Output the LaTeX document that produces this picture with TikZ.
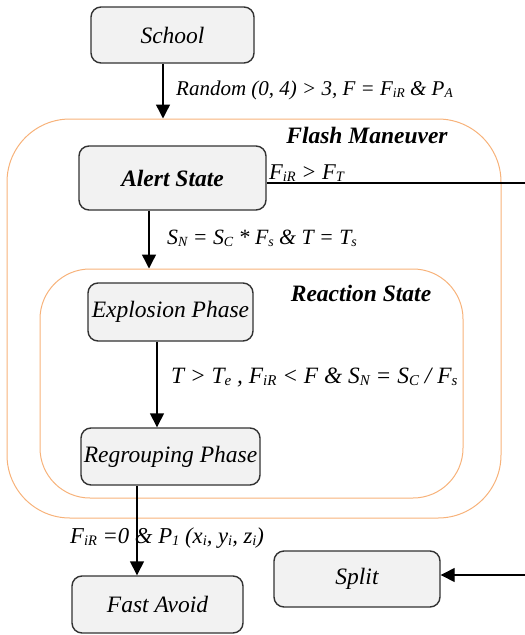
\documentclass[tikz,border=0pt]{standalone}
\usepackage{fontspec}
\setmainfont{Liberation Serif}
\usetikzlibrary{arrows.meta}
\definecolor{boxfill}{RGB}{242,242,242}
\definecolor{boxline}{RGB}{50,50,50}
\definecolor{zone}{RGB}{247,178,122}
% lowered index, sized relative to the condition text
\def\condsz{21}
\newcommand\lo[1]{\raisebox{-2pt}{\fontsize{\fpeval{0.64*\condsz}}{\fpeval{0.7*\condsz}}\selectfont #1}}
\tikzset{
  statebox/.style={draw=boxline, line width=1.4pt, fill=boxfill, rounded corners=10pt,
    inner sep=0pt, font=\fontsize{23.5}{28}\selectfont\itshape},
  zonebox/.style={draw=zone, line width=1pt, inner sep=0pt},
  zonetitle/.style={font=\fontsize{23.5}{28}\selectfont\bfseries\itshape},
  cond/.style={font=\def\condsz{#1}\fontsize{#1}{#1}\selectfont\itshape, inner sep=0pt, anchor=west},
  cond/.default=21,
  arr/.style={line width=1.4pt, -{Triangle[length=14pt,width=14pt]}},
}
\begin{document}
\begin{tikzpicture}[x=1pt,y=-1pt]
\useasboundingbox (0,0) rectangle (525,635);

% nested zones
\node[zonebox, rounded corners=63pt, minimum width=494pt, minimum height=399pt] (fm) at (254,318.5) {};
\node[zonebox, rounded corners=50pt, minimum width=423pt, minimum height=229pt] (rs) at (251.5,383.5) {};
\node[zonetitle] (fmt) at (367,135) {Flash Maneuver};
\node[zonetitle] (rst) at (361,293) {Reaction State};

% states
\node[statebox, minimum width=163pt, minimum height=56pt] (school) at (172.5,35) {School};
\node[statebox, font=\fontsize{23.5}{28}\selectfont\bfseries\itshape, minimum width=187pt, minimum height=64pt] (alert) at (172.5,178) {Alert State};
\node[statebox, minimum width=165pt, minimum height=58pt] (expl) at (170.5,312) {Explosion Phase};
\node[statebox, minimum width=179pt, minimum height=57pt] (regr) at (170.5,456.5) {Regrouping Phase};
\node[statebox, minimum width=171pt, minimum height=57pt] (fast) at (157.5,604.5) {Fast Avoid};
\node[statebox, minimum width=166pt, minimum height=56pt] (split) at (357,579) {Split};

% transitions
\draw[arr] ([xshift=-9.5pt]school.south) -- ([xshift=-9.5pt]school.south |- fm.north);
\draw[arr] ([xshift=-23.5pt]alert.south) -- ([xshift=-23.5pt]alert.south |- rs.north);
\draw[arr] ([xshift=-13.5pt]expl.south) -- ([xshift=-13.5pt]expl.south |- regr.north);
\draw[arr] ([xshift=-33.5pt]regr.south) -- ([xshift=-33.5pt]regr.south |- fast.north);
\coordinate (turnA) at (535,183);
\coordinate (turnB) at (535,575);
\draw[line width=1.6pt] ([yshift=-5pt]alert.east) -- (turnA);
\draw[arr] (turnA) -- (turnB) -- (split.east |- turnB);

% conditions
\node[cond=21] (c1) at (176,90) {Random (0, 4) \textgreater{} 3, F = F\lo{iR} \& P\lo{A}};
\node[cond=22.5] (c2) at (269,173) {F\lo{iR} \textgreater{} F\lo{T}};
\node[cond=21.8] (c3) at (167,238) {S\lo{N} = S\lo{C} * F\lo{s} \& T = T\lo{s}};
\node[cond=23.4] (c4) at (171,378) {T \textgreater{} T\lo{e} , F\lo{iR} \textless{} F \& S\lo{N} = S\lo{C} / F\lo{s}};
\node[cond=22.7] (c5) at (70,538) {F\lo{iR} =0 \& P\lo{1} (x\lo{i}, y\lo{i}, z\lo{i})};
\end{tikzpicture}
\end{document}
